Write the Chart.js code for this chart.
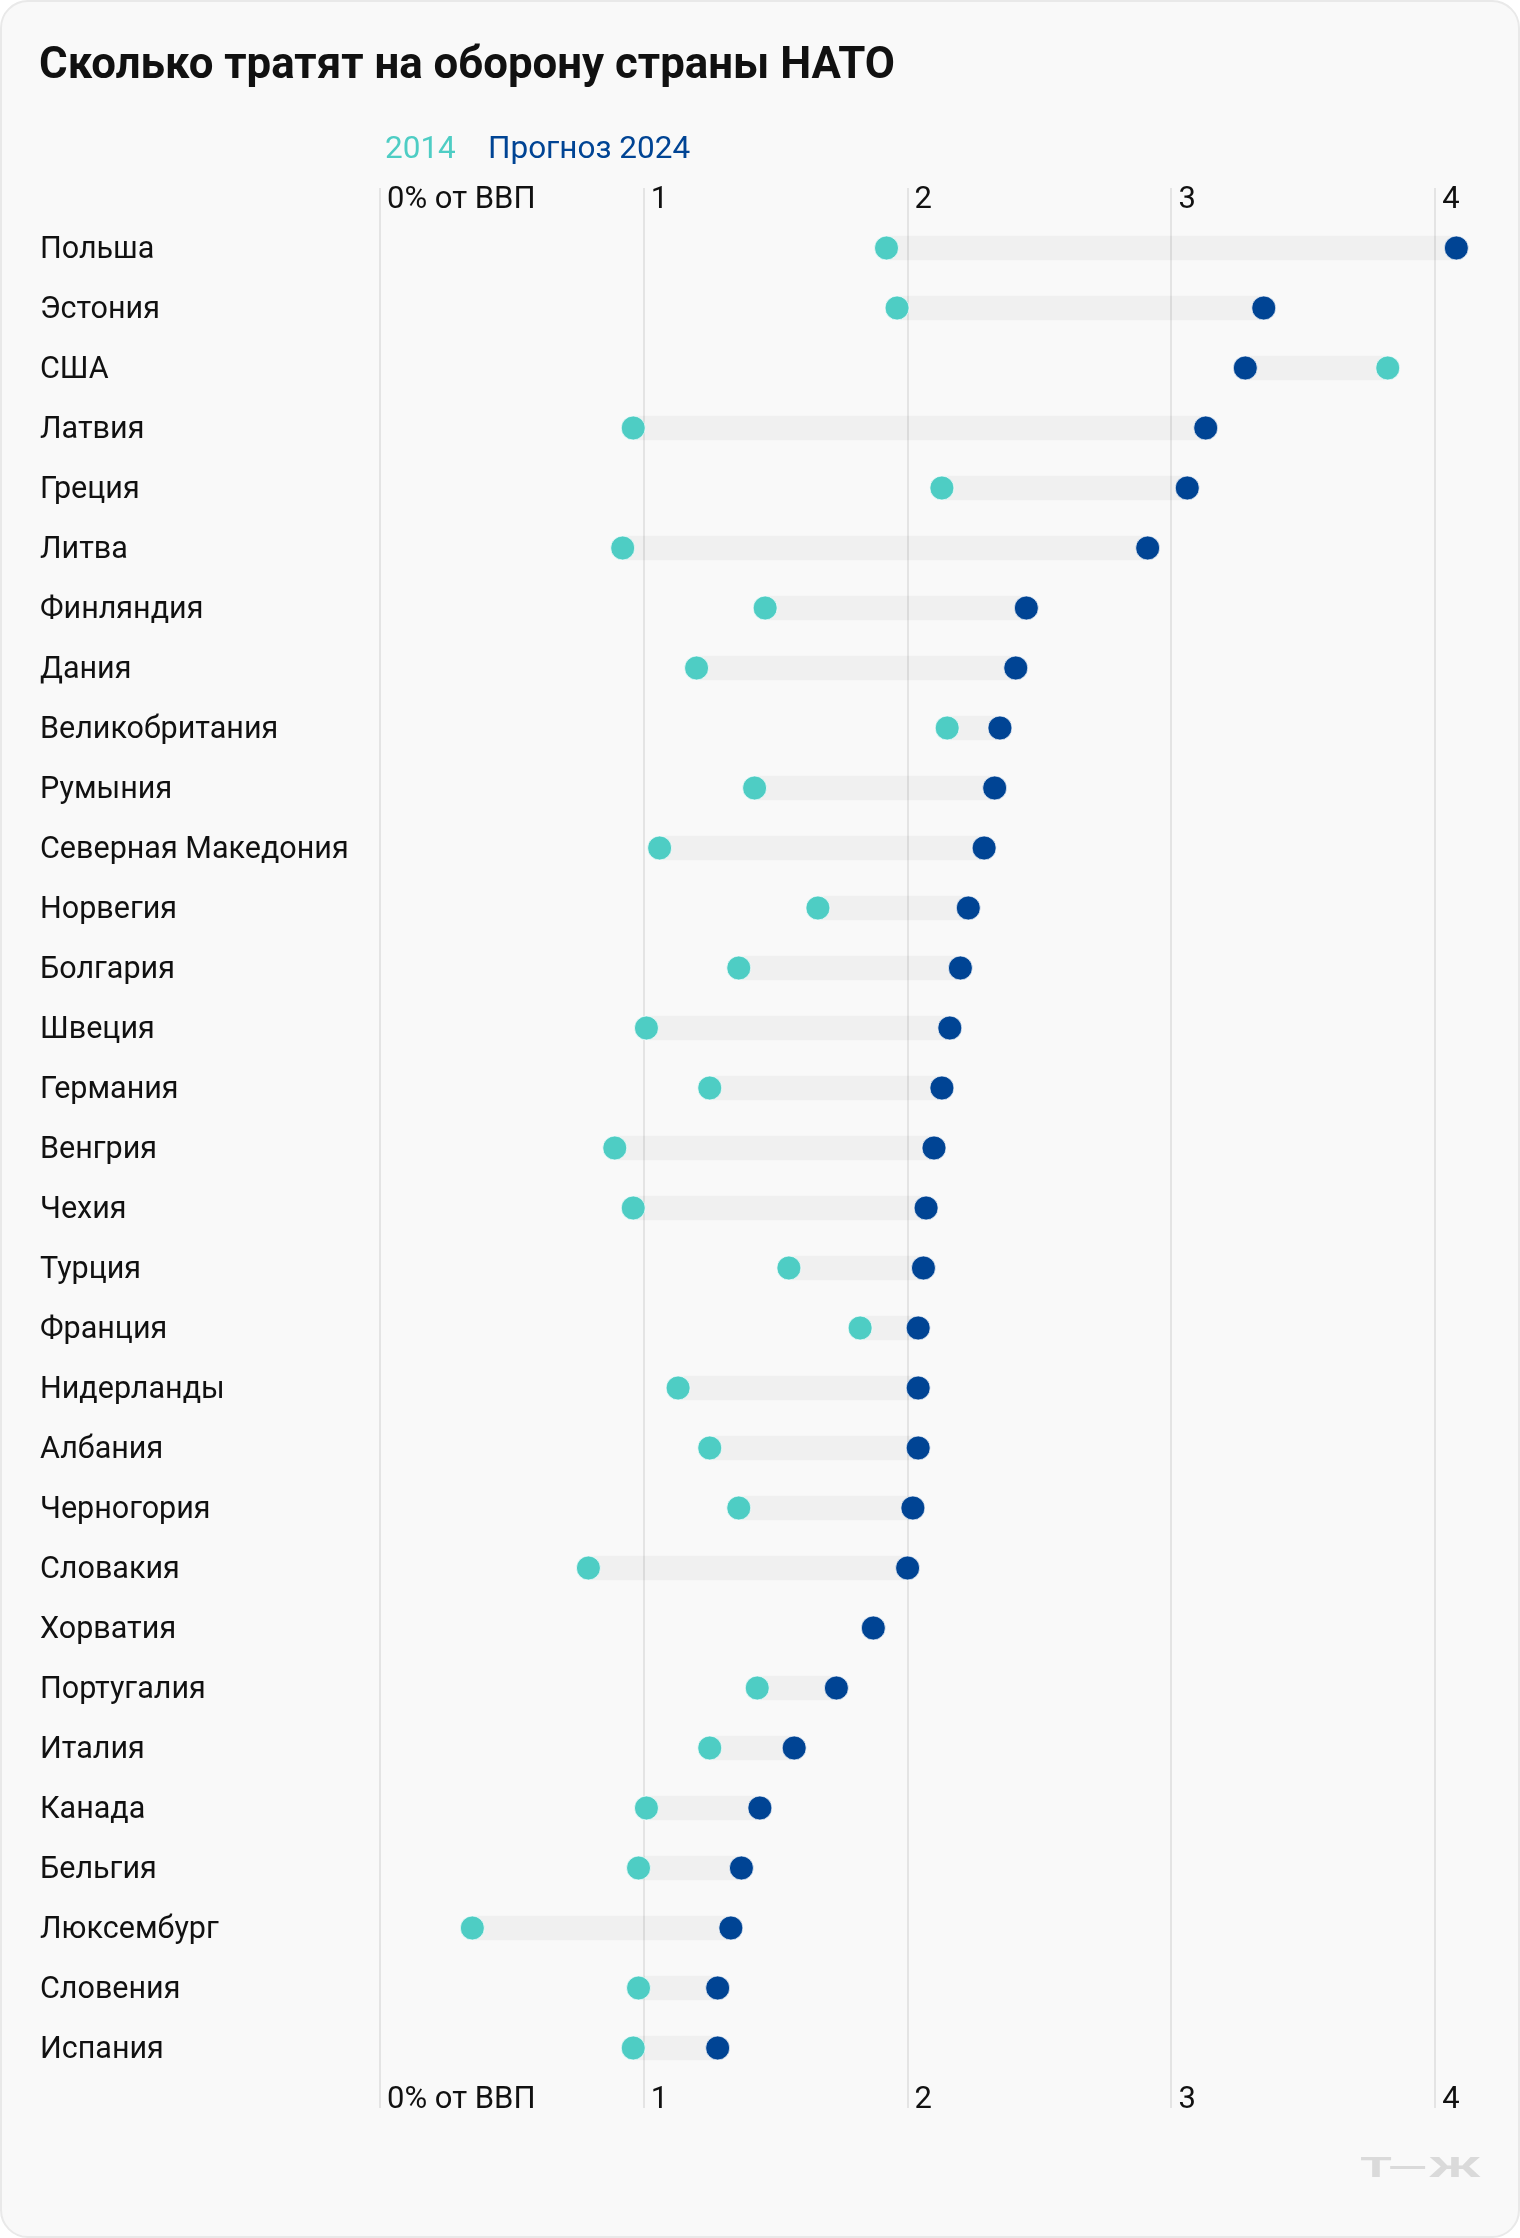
<!DOCTYPE html>
<html>
<head>
<meta charset="utf-8">
<script src="https://cdn.jsdelivr.net/npm/chart.js@4.4.1/dist/chart.umd.min.js"></script>
<style>
  html, body { margin: 0; padding: 0; background: #ffffff; }
  body { width: 1520px; height: 2238px; position: relative; overflow: hidden; font-family: Roboto, "Noto Sans", sans-serif; }
  #card { position: absolute; left: 0; top: 0; width: 1520px; height: 2238px; box-sizing: border-box;
          border: 2px solid #e9e9e9; border-radius: 28px; background: #f9f9f9; }
  #chart { position: absolute; left: 0; top: 0; }
  .title { position: absolute; left: 39px; top: 41px; font: bold 43.8px/44px Roboto, sans-serif; color: #111; white-space: nowrap; }
  .leg { position: absolute; top: 131.5px; font: 31.5px/31.5px Roboto, sans-serif; white-space: nowrap; }
  .logo { position: absolute; left: 1360px; top: 2154px; font: bold 28px/28px Roboto, sans-serif; color: #dadada;
          transform: scaleX(1.85); transform-origin: left top; white-space: nowrap; letter-spacing: 1px; }
</style>
</head>
<body>
<div id="card"></div>
<canvas id="chart" width="1520" height="2238"></canvas>
<div class="title">Сколько тратят на оборону страны НАТО</div>
<div class="leg" style="left:385px;color:#4ecdc4;">2014</div>
<div class="leg" style="left:488px;color:#004494;">Прогноз 2024</div>
<div class="logo">Т—Ж</div>
<script>
const countries = ["Польша","Эстония","США","Латвия","Греция","Литва","Финляндия","Дания","Великобритания","Румыния","Северная Македония","Норвегия","Болгария","Швеция","Германия","Венгрия","Чехия","Турция","Франция","Нидерланды","Албания","Черногория","Словакия","Хорватия","Португалия","Италия","Канада","Бельгия","Люксембург","Словения","Испания"];
const spend2014 = [1.92,1.96,3.82,0.96,2.13,0.92,1.46,1.20,2.15,1.42,1.06,1.66,1.36,1.01,1.25,0.89,0.96,1.55,1.82,1.13,1.25,1.36,0.79,null,1.43,1.25,1.01,0.98,0.35,0.98,0.96];
const spend2024 = [4.08,3.35,3.28,3.13,3.06,2.91,2.45,2.41,2.35,2.33,2.29,2.23,2.20,2.16,2.13,2.10,2.07,2.06,2.04,2.04,2.04,2.02,2.00,1.87,1.73,1.57,1.44,1.37,1.33,1.28,1.28];
const tickValues = [0,1,2,3,4];
const tickLabels = ["0% от ВВП","1","2","3","4"];

const COLOR_2014 = "#4ecdc4";
const COLOR_2024 = "#004494";
const GRID = "#e4e4e4";

const ranges = countries.map((c, i) =>
  spend2014[i] == null ? null : [Math.min(spend2014[i], spend2024[i]), Math.max(spend2014[i], spend2024[i])]);

function setTicks(scale) { scale.ticks = tickValues.map(v => ({ value: v })); }
function tickLabel(value) { const i = tickValues.indexOf(value); return i >= 0 ? tickLabels[i] : ""; }

function xAxis(position, pad, onArea) {
  return {
    type: "linear", min: 0, max: 4.2, position: position,
    afterBuildTicks: setTicks,
    border: { display: false },
    grid: { color: GRID, lineWidth: 2, drawTicks: true, tickLength: 30, tickColor: GRID, drawOnChartArea: onArea },
    ticks: { align: "start", labelOffset: 7, padding: pad, maxRotation: 0, autoSkip: false,
             color: "#111", font: { family: "Roboto", size: 31 }, callback: tickLabel },
    afterFit: s => { s.height = 40; }
  };
}

new Chart(document.getElementById("chart"), {
  type: "bar",
  data: {
    labels: countries,
    datasets: [
      { type: "line", label: "Прогноз 2024", data: spend2024, indexAxis: "y", showLine: false, order: 1,
        pointRadius: 12, pointHoverRadius: 12, pointBackgroundColor: COLOR_2024, pointBorderColor: "rgba(255,255,255,0.7)", pointBorderWidth: 1,
        xAxisID: "x", yAxisID: "y" },
      { type: "line", label: "2014", data: spend2014, indexAxis: "y", showLine: false, order: 2,
        pointRadius: 12, pointHoverRadius: 12, pointBackgroundColor: COLOR_2014, pointBorderColor: "rgba(255,255,255,0.7)", pointBorderWidth: 1,
        xAxisID: "x", yAxisID: "y" },
      { type: "bar", label: "range", data: ranges, order: 3, barThickness: 24,
        backgroundColor: "rgba(0,0,0,0.035)", borderWidth: 0, borderSkipped: false,
        xAxisID: "x", yAxisID: "y" }
    ]
  },
  options: {
    indexAxis: "y",
    responsive: false,
    devicePixelRatio: 1,
    animation: false,
    events: [],
    layout: { padding: { left: 40, right: 32, top: 178, bottom: 120 } },
    plugins: { legend: { display: false }, tooltip: { enabled: false }, title: { display: false } },
    scales: {
      y: {
        type: "category", position: "left", offset: true,
        grid: { display: false }, border: { display: false },
        ticks: { crossAlign: "far", color: "#111", font: { family: "Roboto", size: 30.5 }, autoSkip: false, padding: 0, labelOffset: 2 },
        afterFit: s => { s.width = 340; }
      },
      x: xAxis("top", -31, true),
      x2: xAxis("bottom", -26, false)
    }
  }
});
</script>
</body>
</html>
